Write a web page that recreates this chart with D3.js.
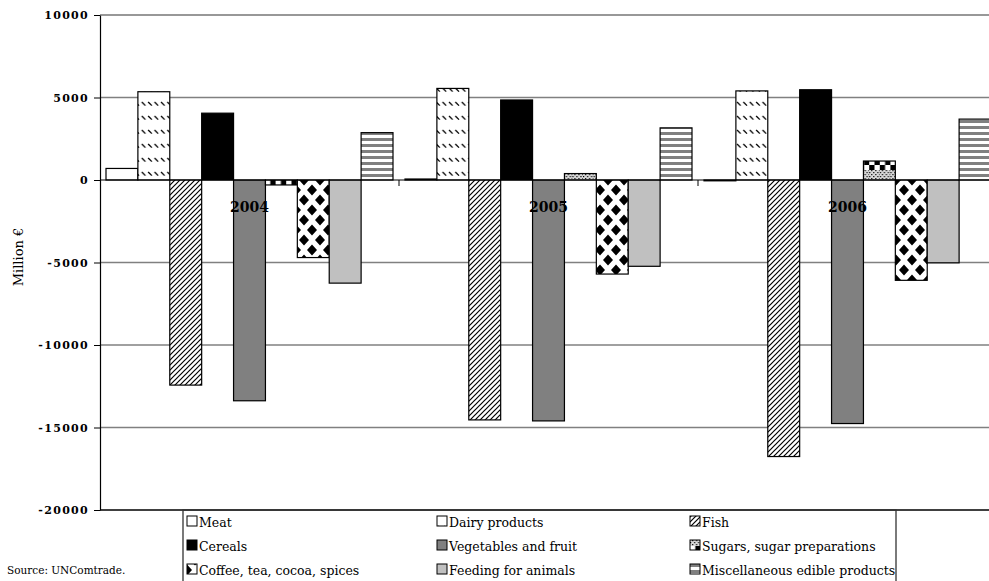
<!DOCTYPE html>
<html><head><meta charset="utf-8">
<script src="https://cdn.jsdelivr.net/npm/d3@7/dist/d3.min.js"></script>
<style>
html,body{margin:0;padding:0;background:#fff;}
svg{display:block;}
text{font-family:"DejaVu Serif",serif;fill:#000;}
</style></head>
<body>
<svg id="chart" width="989" height="581"></svg>
<script>
const years = ["2004", "2005", "2006"];
const seriesNames = ["Meat", "Dairy products", "Fish", "Cereals", "Vegetables and fruit",
  "Sugars, sugar preparations", "Coffee, tea, cocoa, spices", "Feeding for animals", "Miscellaneous edible products"];
const meat = [700, 60, -50];
const dairy = [5350, 5550, 5400];
const fish = [-12430, -14540, -16760];
const cereals = [4050, 4850, 5470];
const vegetables = [-13380, -14600, -14760];
const sugars = [-300, 390, 1150];
const coffee = [-4700, -5700, -6080];
const feeding = [-6250, -5230, -5020];
const misc = [2870, 3160, 3690];
const yTicks = [10000, 5000, 0, -5000, -10000, -15000, -20000];
const gridTicks = [5000, -5000, -10000, -15000];

const seriesValues = [meat, dairy, fish, cereals, vegetables, sugars, coffee, feeding, misc];
const fills = ["#ffffff", "url(#pDairy)", "url(#pFish)", "#000000", "#808080",
  "url(#pSugar)", "url(#pCoffee)", "#c0c0c0", "url(#pMisc)"];

const svg = d3.select("#chart");
const defs = svg.append("defs");

// Dairy: dashed downward diagonal
let p = defs.append("pattern").attr("id", "pDairy").attr("patternUnits", "userSpaceOnUse")
  .attr("width", 6.4).attr("height", 14);
p.append("rect").attr("width", 6.4).attr("height", 14).attr("fill", "#fff");
p.append("line").attr("x1", 1).attr("y1", 4).attr("x2", 4.6).attr("y2", 7.6)
  .attr("stroke", "#000").attr("stroke-width", 1.3);

// Fish: upward diagonal hatch
p = defs.append("pattern").attr("id", "pFish").attr("patternUnits", "userSpaceOnUse")
  .attr("width", 5).attr("height", 5);
p.append("rect").attr("width", 5).attr("height", 5).attr("fill", "#fff");
p.append("path").attr("d", "M-1,6 L6,-1 M-1,1 L1,-1 M4,6 L6,4")
  .attr("stroke", "#000").attr("stroke-width", 1.2);

// Sugars
p = defs.append("pattern").attr("id", "pSugar").attr("patternUnits", "userSpaceOnUse")
  .attr("width", 10.6).attr("height", 20).attr("y", 0);
p.append("rect").attr("width", 10.6).attr("height", 20).attr("fill", "#fff");
p.append("rect").attr("x", 5.3).attr("y", 0).attr("width", 5.3).attr("height", 5).attr("fill", "#000");
p.append("rect").attr("x", 0).attr("y", 5).attr("width", 5.3).attr("height", 5).attr("fill", "#000");
for (let yy = 10; yy < 20; yy += 2) {
  for (let xx = 0; xx < 10.6; xx += 2) {
    if (((yy + xx) / 2) % 2 === 0) p.append("rect").attr("x", xx).attr("y", yy)
      .attr("width", 1.2).attr("height", 1.2).attr("fill", "#000");
  }
}
p.append("rect").attr("x", 0).attr("y", 10).attr("width", 10.6).attr("height", 10)
  .attr("fill", "#000").attr("opacity", 0.15);

// Coffee: diamonds
p = defs.append("pattern").attr("id", "pCoffee").attr("patternUnits", "userSpaceOnUse")
  .attr("width", 16).attr("height", 20);
p.append("rect").attr("width", 16).attr("height", 20).attr("fill", "#fff");
const dia = (cx, cy) => `M${cx},${cy - 5.5} L${cx + 5},${cy} L${cx},${cy + 5.5} L${cx - 5},${cy} Z`;
p.append("path").attr("d", [dia(0, 0), dia(16, 0), dia(0, 20), dia(16, 20), dia(8, 10)].join(" "))
  .attr("fill", "#000");

// Misc: horizontal stripes
p = defs.append("pattern").attr("id", "pMisc").attr("patternUnits", "userSpaceOnUse")
  .attr("width", 10).attr("height", 6);
p.append("rect").attr("width", 10).attr("height", 6).attr("fill", "#fff");
p.append("rect").attr("y", 0).attr("width", 10).attr("height", 3).attr("fill", "#808080");

// Scales
const x0 = d3.scaleBand().domain(years).range([100, 997]).padding(0);
const x1 = d3.scaleBand().domain(seriesNames).range([6, x0.bandwidth() - 6]).padding(0);
const y = d3.scaleLinear().domain([-20000, 10000]).range([510, 15]);

// Gridlines
svg.append("g").selectAll("line").data(gridTicks).join("line")
  .attr("x1", 100).attr("x2", 989).attr("y1", d => y(d)).attr("y2", d => y(d))
  .attr("stroke", "#808080").attr("stroke-width", 1.3);
svg.append("line").attr("x1", 100).attr("x2", 989).attr("y1", y(10000)).attr("y2", y(10000))
  .attr("stroke", "#333").attr("stroke-width", 1.2);

// Bars
const groups = svg.append("g").selectAll("g").data(seriesNames).join("g");
groups.each(function (s, si) {
  d3.select(this).selectAll("rect").data(years).join("rect")
    .attr("x", (yr) => x0(yr) + x1(s))
    .attr("width", x1.bandwidth())
    .attr("y", (yr, i) => Math.min(y(seriesValues[si][i]), y(0)))
    .attr("height", (yr, i) => Math.abs(y(seriesValues[si][i]) - y(0)))
    .attr("fill", fills[si])
    .attr("stroke", "#000").attr("stroke-width", 1.2);
});

// Zero line
svg.append("line").attr("x1", 100).attr("x2", 989).attr("y1", y(0)).attr("y2", y(0))
  .attr("stroke", "#000").attr("stroke-width", 1.2);
// Category ticks
svg.append("g").selectAll("line").data(years).join("line")
  .attr("x1", d => x0(d) + x0.bandwidth()).attr("x2", d => x0(d) + x0.bandwidth())
  .attr("y1", y(0)).attr("y2", y(0) + 6).attr("stroke", "#000").attr("stroke-width", 1);
// Category labels
svg.append("g").selectAll("text").data(years).join("text")
  .attr("x", d => x0(d) + x0.bandwidth() / 2).attr("y", y(0) + 32)
  .attr("text-anchor", "middle").attr("font-size", 14).attr("font-weight", "bold").text(d => d);

// Y axis
const yAxis = d3.axisLeft(y).tickValues(yTicks).tickSize(6).tickSizeOuter(0)
  .tickFormat(d => String(d));
const ga = svg.append("g").attr("transform", "translate(100,0)").call(yAxis);
ga.select(".domain").attr("stroke", "#000").attr("stroke-width", 1.2);
ga.selectAll(".tick line").attr("stroke", "#000");
ga.selectAll(".tick text").attr("font-family", "DejaVu Serif").attr("font-size", 11)
  .attr("font-weight", "bold").attr("letter-spacing", 1.3).attr("x", -11).attr("fill", "#000");

// Bottom border
svg.append("line").attr("x1", 100).attr("x2", 989).attr("y1", y(-20000)).attr("y2", y(-20000))
  .attr("stroke", "#000").attr("stroke-width", 1.4);

// Y label
svg.append("text").attr("transform", "translate(23,257) rotate(-90)")
  .attr("text-anchor", "middle").attr("font-size", 13).text("Million €");

// Legend
svg.append("rect").attr("x", 183).attr("y", y(-20000)).attr("width", 713).attr("height", 90)
  .attr("fill", "none").attr("stroke", "#333").attr("stroke-width", 1.3);
const colX = [187, 437, 690];
const rowY = [522, 546, 570];
const leg = svg.append("g").selectAll("g").data(seriesNames).join("g")
  .attr("transform", (d, i) => `translate(${colX[i % 3]},${rowY[Math.floor(i / 3)]})`);
leg.append("rect").attr("x", 0).attr("y", -6).attr("width", 10).attr("height", 10)
  .attr("fill", (d, i) => fills[i]).attr("stroke", "#000").attr("stroke-width", 1);
leg.append("text").attr("x", 12).attr("y", 4.5).attr("font-size", 12.5).text(d => d);

// Source
svg.append("text").attr("x", 7).attr("y", 574).attr("font-size", 10.5).text("Source: UNComtrade.");
</script>
</body></html>
